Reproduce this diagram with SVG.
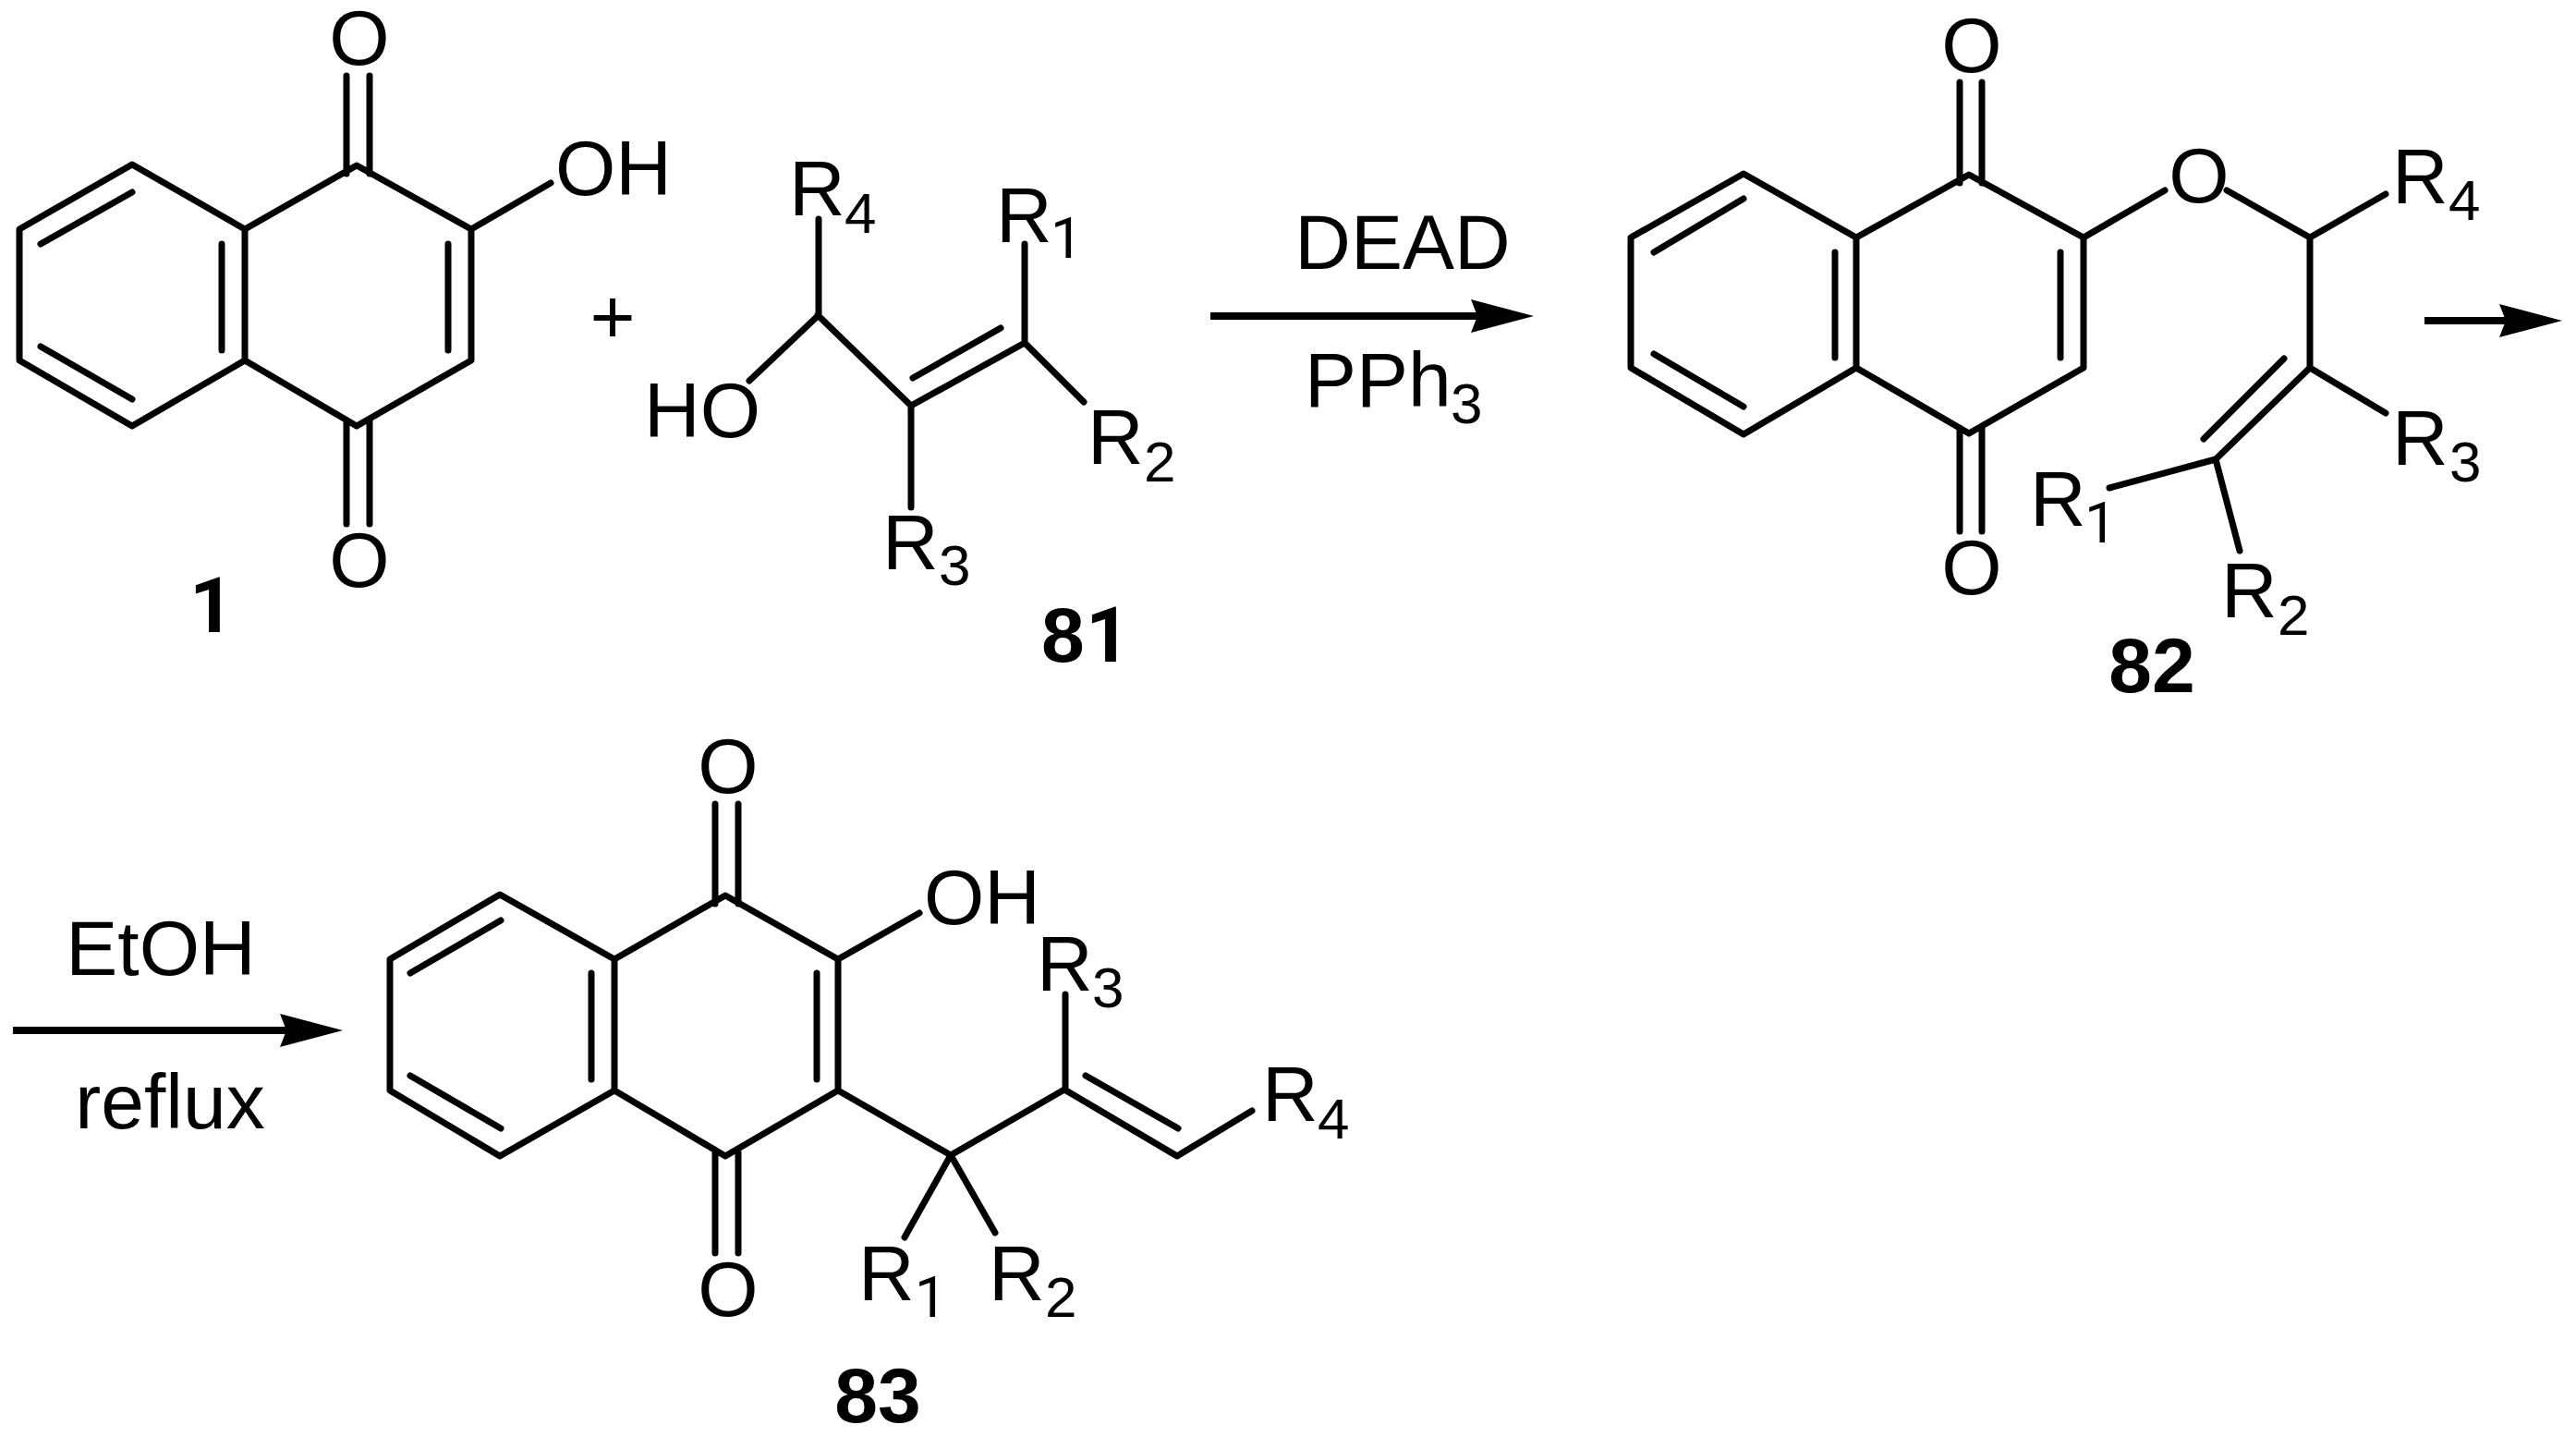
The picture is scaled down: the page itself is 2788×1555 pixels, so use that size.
<svg xmlns="http://www.w3.org/2000/svg" width="2788" height="1555" viewBox="0 0 2788 1555">
<defs>
<style>
.b{fill:none;stroke:#000;stroke-width:7;stroke-linecap:round;stroke-linejoin:round}
.a{fill:none;stroke:#000;stroke-width:8}
text{font-family:"Liberation Sans",Arial,sans-serif;font-size:84px;fill:#000}
.s{font-size:62px}
.o{font-family:Roboto,Arial,sans-serif}
.n{font-weight:700}
.c{text-anchor:middle}
</style>
<marker id="h" markerUnits="userSpaceOnUse" markerWidth="70" markerHeight="38" refX="8" refY="18" orient="auto" viewBox="0 0 70 38"><path d="M0,0L68,18L0,36L7,18z" fill="#000"/></marker>
</defs>
<rect width="2788" height="1555" fill="#fff"/>
<g id="compound-1">
<path class="b" d="M21,248L143,178L265,248L265,390L143,461L21,390ZM265,248L386,179L510,248L510,390L386,461L265,390M44,264L143,208M44,375L143,432M240,264V379M485,264V379M375,82V188M400,82V188M375,455V567M400,455V567M510,248L596,198"/>
<text x="389" y="70" class="c">O</text>
<text x="389" y="635" class="c">O</text>
<text x="601" y="211">OH</text>
<text x="205" y="684" class="n o">1</text>
</g>
<g id="plus"><text x="663" y="371" class="c">+</text></g>
<g id="compound-81">
<path class="b" d="M886,237V341L811,412M885,341L986,439L1109,371V264M988,409L1083,355M1109,371L1173,435M986,439V549"/>
<text x="854" y="233">R<tspan class="s" x="914" y="252">4</tspan></text>
<text x="1078" y="262">R<tspan class="s o" x="1137" y="279">1</tspan></text>
<text x="697" y="473">HO</text>
<text x="1177" y="502">R<tspan class="s" x="1238" y="521">2</tspan></text>
<text x="955" y="616">R<tspan class="s" x="1016" y="633">3</tspan></text>
<text x="1127" y="716" class="n">8<tspan class="o" x="1175">1</tspan></text>
</g>
<g id="compound-82">
<path class="b" d="M1765,257L1887,188L2009,257L2009,398L1887,470L1765,398ZM2009,257L2131,189L2255,257L2255,398L2131,469L2009,398M1790,273L1887,215M1790,383L1887,440M1986,273V387M2230,273V387M2121,89V198M2145,89V198M2121,463V575M2145,463V575M2255,257L2343,206M2410,206L2500,257L2582,210M2500,257V398L2582,447M2500,398L2398,497L2283,528M2472,388L2385,475M2398,497L2424,596"/>
<text x="2134" y="78" class="c">O</text>
<text x="2134" y="643" class="c">O</text>
<text x="2380" y="219" class="c">O</text>
<text x="2589" y="220">R<tspan class="s" x="2650" y="238">4</tspan></text>
<text x="2589" y="503">R<tspan class="s" x="2651" y="521">3</tspan></text>
<text x="2197" y="569">R<tspan class="s o" x="2256" y="587">1</tspan></text>
<text x="2404" y="668">R<tspan class="s" x="2465" y="687">2</tspan></text>
<text x="2329" y="749" class="n c">82</text>
</g>
<g id="compound-83">
<path class="b" d="M422,1038L541,968L665,1038L665,1180L541,1251L422,1180ZM665,1038L785,969L907,1038V1180L785,1251L665,1180M444,1053L542,996M444,1164L542,1221M640,1053V1168M884,1053V1168M774,870V978M799,870V978M774,1247V1356M799,1247V1356M907,1038L995,988M907,1180L1029,1250L1152,1179M1153,1179V1076M1152,1179L1274,1251L1355,1202M1175,1164L1275,1221M1029,1250L979,1339M1029,1250L1077,1334"/>
<text x="788" y="858" class="c">O</text>
<text x="788" y="1424" class="c">O</text>
<text x="1000" y="1000">OH</text>
<text x="1122" y="1072">R<tspan class="s" x="1182" y="1090">3</tspan></text>
<text x="1366" y="1213">R<tspan class="s" x="1426" y="1232">4</tspan></text>
<text x="929" y="1407">R<tspan class="s o" x="990" y="1425">1</tspan></text>
<text x="1070" y="1407">R<tspan class="s" x="1131" y="1425">2</tspan></text>
<text x="950" y="1539" class="n c">83</text>
</g>
<g id="connectors">
<line class="a" x1="1310" y1="342" x2="1600" y2="342" marker-end="url(#h)"/>
<line class="a" x1="2624" y1="347" x2="2713" y2="347" marker-end="url(#h)"/>
<line class="a" x1="14" y1="1115" x2="311" y2="1115" marker-end="url(#h)"/>
</g>
<g id="reagents">
<text x="1518" y="291" class="c">DEAD</text>
<text x="1412" y="440">PPh<tspan class="s" x="1570" y="458">3</tspan></text>
<text x="174" y="1055" class="c">EtOH</text>
<text x="184" y="1221" class="c">reflux</text>
</g>
</svg>
